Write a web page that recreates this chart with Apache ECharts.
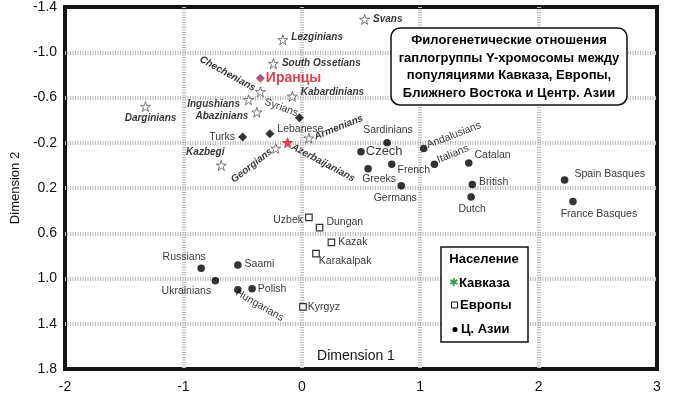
<!DOCTYPE html>
<html><head><meta charset="utf-8">
<script src="https://cdn.jsdelivr.net/npm/echarts@6/dist/echarts.min.js"></script>
<style>html,body{margin:0;padding:0;background:#fff}#c{width:700px;height:394px}</style>
</head><body><div id="c"></div>
<script>
// ---- Data ----
const caucasusNames = ['Lezginians','South Ossetians','Chechenians','Kabardinians','Ingushians','Abazinians','Darginians','Kazbegi','Georgians','Armenians','Svans','Azerbaijanians'];
const caucasusX = [-0.16,-0.24,-0.35,-0.08,-0.45,-0.38,-1.32,-0.68,-0.22,0.06,0.53,-0.12];
const caucasusY = [-1.11,-0.90,-0.65,-0.61,-0.58,-0.47,-0.52,0.00,-0.15,-0.24,-1.29,-0.20];

const middleEastNames = ['Turks','Lebanese','Syrians','Иранцы'];
const middleEastX = [-0.50,-0.27,-0.02,-0.35];
const middleEastY = [-0.25,-0.28,-0.42,-0.77];

const europeNames = ['Sardinians','Czech','Greeks','French','Germans','Andalusians','Italians','Catalan','British','Dutch','Spain Basques','France Basques','Russians','Saami','Ukrainians','Polish','Hungarians'];
const europeX = [0.72,0.50,0.56,0.76,0.84,1.03,1.12,1.41,1.44,1.43,2.22,2.29,-0.85,-0.54,-0.73,-0.42,-0.54];
const europeY = [-0.20,-0.12,0.03,-0.01,0.18,-0.15,-0.01,-0.02,0.17,0.28,0.13,0.32,0.91,0.88,1.02,1.09,1.10];

const asiaNames = ['Uzbek','Dungan','Kazak','Karakalpak','Kyrgyz'];
const asiaX = [0.06,0.15,0.25,0.12,0.01];
const asiaY = [0.46,0.55,0.68,0.78,1.25];

const xAxisRange = {min:-2, max:3, interval:1};
const yAxisRange = {min:-1.4, max:1.8, interval:0.4};
const xAxisTitle = 'Dimension 1';
const yAxisTitle = 'Dimension 2';
const titleLines = ['Филогенетические отношения','гаплогруппы Y-хромосомы между','популяциями Кавказа, Европы,','Ближнего Востока и Центр. Азии'];
const legendTitle = 'Население';
const legendLabels = ['Кавказа','Европы','Ц. Азии'];

// ---- Label layout (style) ----
const labelSpec = {
 'Lezginians':['right',[0,-3]],
 'South Ossetians':['right',[0,0]],
 'Chechenians':['left',[1,-4],-29],
 'Kabardinians':['right',[0,-4]],
 'Ingushians':['left',[0,4]],
 'Abazinians':['left',[0,4]],
 'Darginians':['bottom',[5,-2]],
 'Kazbegi':['top',[-16,0]],
 'Georgians':['left',[2,4],38],
 'Armenians':['right',[-2,-2],22],
 'Svans':['right',[0,0]],
 'Azerbaijanians':['right',[-2,5],-28],
 'Turks':['left',[0,0]],
 'Lebanese':['right',[0,-5]],
 'Syrians':['left',[4,-6],-20],
 'Иранцы':['right',[-2,0]],
 'Sardinians':['top',[1,0]],
 'Czech':['right',[-2,0]],
 'Greeks':['bottom',[11,-2]],
 'French':['right',[-1,6]],
 'Germans':['bottom',[-6,0]],
 'Andalusians':['right',[-2,-4],21],
 'Italians':['right',[-2,-5],22],
 'Catalan':['right',[-1,-8]],
 'British':['right',[0,-2]],
 'Dutch':['bottom',[1,0]],
 'Spain Basques':['right',[3,-6]],
 'France Basques':['bottom',[26,0]],
 'Russians':['top',[-17,1]],
 'Saami':['right',[0,-1]],
 'Ukrainians':['bottom',[-29,-2]],
 'Polish':['right',[-1,0]],
 'Hungarians':['right',[-6,6],-30],
 'Uzbek':['left',[1,3]],
 'Dungan':['right',[0,-5]],
 'Kazak':['right',[0,0]],
 'Karakalpak':['right',[-4,7]],
 'Kyrgyz':['right',[-2,0]]
};
const FONT = "'Liberation Sans', Arial, sans-serif";
const starPath = 'path://M50,2 L61,36 L97,36 L68,57 L79,92 L50,71 L21,92 L32,57 L3,36 L39,36 Z';

function build(names, xs, ys, overrides) {
  return names.map((n, i) => {
    const s = labelSpec[n] || ['right',[0,0]];
    const item = {name:n, value:[xs[i], ys[i]],
      label:{position:s[0], offset:s[1], rotate:s[2] || 0}};
    if (overrides && overrides[n]) {
      const o = overrides[n];
      if (o.itemStyle) item.itemStyle = o.itemStyle;
      if (o.label) Object.assign(item.label, o.label);
      if (o.symbolSize) item.symbolSize = o.symbolSize;
    }
    return item;
  });
}

const baseLabel = {show:true, formatter:'{b}', distance:3, fontFamily:FONT, fontSize:10.5, color:'#000'};
const chart = echarts.init(document.getElementById('c'));
const option = {
  animation:false,
  grid:{left:65, top:4, right:43, bottom:24, show:true, borderColor:'#151515', borderWidth:4, backgroundColor:'#fff'},
  xAxis:{type:'value', min:xAxisRange.min, max:xAxisRange.max, interval:xAxisRange.interval,
    axisLine:{show:false}, axisTick:{show:false},
    axisLabel:{fontFamily:FONT, fontSize:14, color:'#111', margin:11},
    splitLine:{show:true, showMinLine:false, showMaxLine:false, lineStyle:{color:'#b8b8b8', width:4, type:[1,1.5]}}},
  yAxis:{type:'value', inverse:true, min:yAxisRange.min, max:yAxisRange.max, interval:yAxisRange.interval,
    name:yAxisTitle, nameLocation:'middle', nameGap:40,
    nameTextStyle:{fontFamily:FONT, fontSize:13, color:'#111'},
    axisLine:{show:false}, axisTick:{show:false},
    axisLabel:{fontFamily:FONT, fontSize:14, color:'#111', margin:8, formatter:v => v.toFixed(1)},
    splitLine:{show:true, showMinLine:false, showMaxLine:false, lineStyle:{color:'#b8b8b8', width:4, type:[1,1.5]}}},
  series:[
    {name:'Кавказ', type:'scatter', symbol:starPath, symbolSize:10,
      itemStyle:{color:'#fff', borderColor:'#555', borderWidth:1},
      label:Object.assign({}, baseLabel, {fontSize:10, fontWeight:'bold', fontStyle:'italic', color:'#000'}),
      data:build(caucasusNames, caucasusX, caucasusY, {
        'Azerbaijanians':{itemStyle:{color:'#e0203a', borderColor:'#e0203a'}}
      })},
    {name:'Ближний Восток', type:'scatter', symbol:'diamond', symbolSize:9,
      itemStyle:{color:'#000'},
      label:Object.assign({}, baseLabel),
      data:build(middleEastNames, middleEastX, middleEastY, {
        'Иранцы':{itemStyle:{color:{type:'linear',x:0,y:0,x2:0,y2:1,colorStops:[{offset:0,color:'#3a3ad0'},{offset:0.5,color:'#a02070'},{offset:1,color:'#f03010'}]}},
                  label:{fontSize:14, fontWeight:'bold', color:'#e0101a'}}
      })},
    {name:'Европа', type:'scatter', symbol:'circle', symbolSize:7.5,
      itemStyle:{color:'#000'},
      label:Object.assign({}, baseLabel),
      data:build(europeNames, europeX, europeY, {
        'Czech':{label:{fontSize:13}}
      })},
    {name:'Центр. Азия', type:'scatter', symbol:'rect', symbolSize:6.5,
      itemStyle:{color:'#fff', borderColor:'#000', borderWidth:1.2},
      label:Object.assign({}, baseLabel),
      data:build(asiaNames, asiaX, asiaY)}
  ],
  graphic:[
    {type:'text', z:50, x:356, y:356, style:{text:xAxisTitle, font:"14px "+FONT, fill:'#111', align:'center', verticalAlign:'middle'}},
    {type:'rect', z:100, shape:{x:391, y:28, width:236, height:77, r:9}, style:{fill:'#fff', stroke:'#111', lineWidth:1.5}},
    {type:'text', z:101, x:509, y:67, style:{text:titleLines.join('\n'), font:"bold 13px "+FONT, lineHeight:17.5, fill:'#000', align:'center', verticalAlign:'middle'}},
    {type:'rect', z:100, shape:{x:441, y:247, width:87, height:95}, style:{fill:'#fff', stroke:'#111', lineWidth:1.5}},
    {type:'text', z:101, x:484, y:259, style:{text:legendTitle, font:"bold 13px "+FONT, fill:'#000', align:'center', verticalAlign:'middle'}},
    {type:'text', z:101, x:453.5, y:283, style:{text:'✱', font:"11px 'DejaVu Sans'", fill:'#2e9e3e', align:'center', verticalAlign:'middle'}},
    {type:'text', z:101, x:459, y:283, style:{text:legendLabels[0], font:"bold 13px "+FONT, fill:'#000', align:'left', verticalAlign:'middle'}},
    {type:'rect', z:101, shape:{x:451.5, y:302, width:6, height:6}, style:{fill:'#fff', stroke:'#111', lineWidth:1}},
    {type:'text', z:101, x:460, y:305, style:{text:legendLabels[1], font:"bold 13px "+FONT, fill:'#000', align:'left', verticalAlign:'middle'}},
    {type:'circle', z:101, shape:{cx:455, cy:329.5, r:2.6}, style:{fill:'#000'}},
    {type:'text', z:101, x:461, y:329, style:{text:legendLabels[2], font:"bold 13px "+FONT, fill:'#000', align:'left', verticalAlign:'middle'}}
  ]
};
chart.setOption(option);
</script>
</body></html>
